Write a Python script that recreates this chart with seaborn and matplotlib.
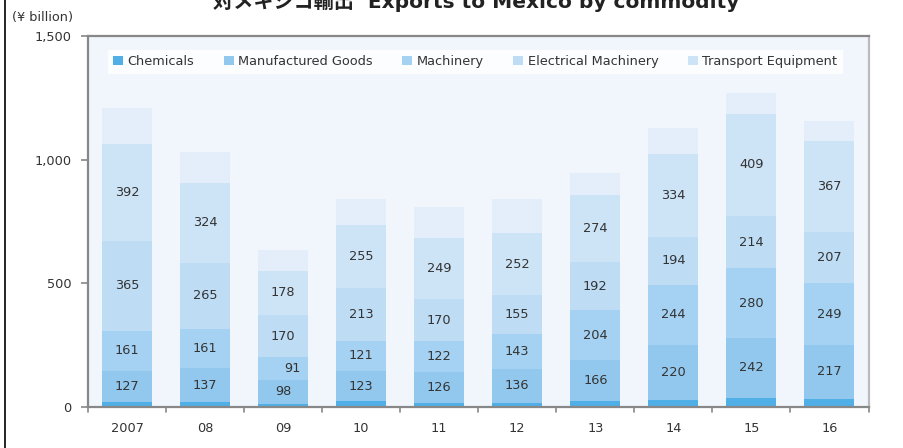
import numpy as np
import pandas as pd
import matplotlib
matplotlib.use("Agg")
import matplotlib.pyplot as plt
import seaborn as sns
from matplotlib.lines import Line2D
from matplotlib.patches import Patch

years = ["2007", "08", "09", "10", "11", "12", "13", "14", "15", "16"]
chemicals = [19, 19, 13, 23, 17, 17, 23, 30, 38, 34]
manufactured = [127, 137, 98, 123, 126, 136, 166, 220, 242, 217]
machinery = [161, 161, 91, 121, 122, 143, 204, 244, 280, 249]
electrical = [365, 265, 170, 213, 170, 155, 192, 194, 214, 207]
transport = [392, 324, 178, 255, 249, 252, 274, 334, 409, 367]
others = [144, 126, 85, 105, 126, 138, 88, 105, 87, 84]

series_names = ["Chemicals", "Manufactured Goods", "Machinery",
                "Electrical Machinery", "Transport Equipment", "Others"]
series_vals = [chemicals, manufactured, machinery, electrical, transport, others]
colors = ["#4FAFE6", "#92C8EE", "#A5D2F2", "#BEDDF5", "#CDE3F6", "#E3EEFA"]
labelled = [False, True, True, True, True, False]

sns.set_theme(style="white")
plt.rcParams['font.family'] = ['DejaVu Sans']
FS = 9.3

fig = plt.figure(figsize=(9.04, 4.48), dpi=100)
ax = fig.add_axes([88/904, 1-407/448, (868.5-88)/904, (407-36)/448])
ax.set_facecolor("#F1F6FD")

data = np.array(series_vals, dtype=float)
cum = np.cumsum(data, axis=0)
for i in range(len(series_names) - 1, -1, -1):
    df = pd.DataFrame({"year": years, "val": cum[i]})
    sns.barplot(data=df, x="year", y="val", color=colors[i], width=0.64,
                saturation=1, ax=ax, edgecolor="none", linewidth=0, zorder=2)

for i in range(len(series_names)):
    if not labelled[i]:
        continue
    for j, y in enumerate(years):
        center = cum[i][j] - data[i][j] / 2
        dx = 0.12 if (j == 2 and i == 2) else 0
        ax.text(j + dx, center, f"{int(data[i][j])}", ha="center", va="center",
                fontsize=FS, color="#333333", zorder=5, family="DejaVu Sans")

ax.set_ylim(0, 1500)
ax.set_xlim(-0.5, len(years) - 0.5)
ax.set_yticks([0, 500, 1000, 1500])
ax.set_yticklabels(["0", "500", "1,000", "1,500"], family="DejaVu Sans")
ax.set_xlabel("")
ax.set_ylabel("")
ax.set_xticks(range(len(years)))
ax.set_xticklabels(years, family="DejaVu Sans")
ax.tick_params(axis="x", length=0, pad=11, labelsize=FS, colors="#333333")
ax.tick_params(axis="y", length=5, width=1.2, color="#888888", pad=7,
               labelsize=FS, labelcolor="#333333", left=True)
for k in range(len(years) + 1):
    ax.plot([k - 0.5, k - 0.5], [0, -22], color="#888888", lw=1.2,
            clip_on=False, zorder=3)

for s in ["left", "bottom", "top"]:
    ax.spines[s].set_visible(True)
    ax.spines[s].set_color("#888888")
    ax.spines[s].set_linewidth(1.6)
ax.spines["right"].set_visible(True)
ax.spines["right"].set_color("#BBBBBB")
ax.spines["right"].set_linewidth(1.6)

handles = [Patch(facecolor=colors[i], edgecolor="none", label=series_names[i])
           for i in range(5)]
leg = ax.legend(handles=handles, loc="upper left", bbox_to_anchor=(20/780.5, 1-14/371),
                ncol=5, frameon=True, handlelength=0.75, handleheight=0.75,
                handletextpad=0.35, columnspacing=2.3, borderpad=0.4,
                fancybox=False, borderaxespad=0,
                prop={"family": "DejaVu Sans", "size": FS})
leg.get_frame().set_facecolor("white")
leg.get_frame().set_edgecolor("white")
for t in leg.get_texts():
    t.set_color("#333333")

fig.text(12/904, 1-18/448, "(¥ billion)", fontsize=FS, color="#333333",
         va="center", ha="left", family="DejaVu Sans")
fig.text(476/904, 1-8/448, "対メキシコ輸出  Exports to Mexico by commodity",
         fontsize=14.5, fontweight="bold", color="#222222", ha="center",
         va="baseline", family=["DejaVu Sans", "Noto Sans CJK JP"])
fig.add_artist(Line2D([5/904, 5/904], [0, 1], color="black", lw=1.2,
                      transform=fig.transFigure))

fig.savefig("out.png", dpi=100, facecolor="white")
